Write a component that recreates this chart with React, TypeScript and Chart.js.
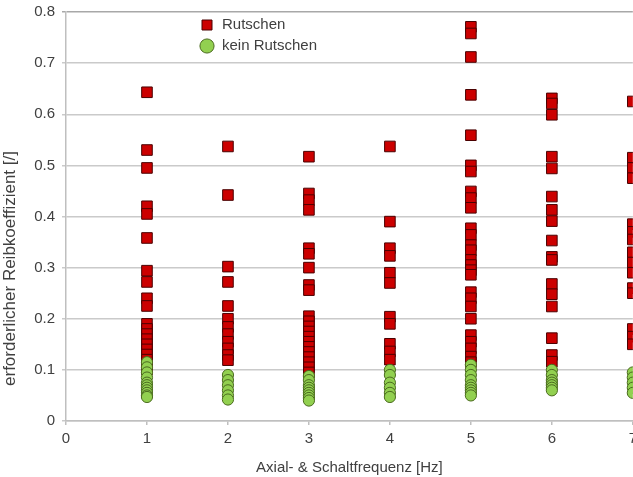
import React, { useEffect, useRef } from 'react';
import { Chart, registerables } from 'chart.js';

Chart.register(...registerables);

// Frequencies (x categories)
const frequencies = [1, 2, 3, 4, 5, 6, 7];

// "Rutschen" (slipping) values per frequency
const rutschenF1 = [0.643, 0.53, 0.495, 0.42, 0.405, 0.358, 0.294, 0.272, 0.24, 0.225, 0.19, 0.18, 0.17, 0.16, 0.15, 0.14, 0.13, 0.12, 0.11, 0.1];
const rutschenF2 = [0.537, 0.442, 0.302, 0.272, 0.225, 0.2, 0.184, 0.17, 0.155, 0.142, 0.129, 0.119];
const rutschenF3 = [0.517, 0.445, 0.432, 0.413, 0.338, 0.327, 0.3, 0.266, 0.256, 0.205, 0.195, 0.185, 0.175, 0.165, 0.155, 0.145, 0.135, 0.125, 0.115, 0.105, 0.095];
const rutschenF4 = [0.537, 0.39, 0.338, 0.323, 0.29, 0.27, 0.204, 0.19, 0.151, 0.136, 0.12];
const rutschenF5 = [0.771, 0.758, 0.712, 0.638, 0.559, 0.5, 0.488, 0.449, 0.436, 0.417, 0.377, 0.364, 0.344, 0.334, 0.315, 0.305, 0.295, 0.286, 0.252, 0.24, 0.224, 0.2, 0.168, 0.155, 0.142, 0.126, 0.115];
const rutschenF6 = [0.631, 0.621, 0.599, 0.517, 0.494, 0.439, 0.413, 0.391, 0.353, 0.321, 0.315, 0.268, 0.248, 0.224, 0.162, 0.129, 0.116];
const rutschenF7 = [0.625, 0.515, 0.495, 0.475, 0.385, 0.37, 0.355, 0.33, 0.31, 0.29, 0.26, 0.25, 0.18, 0.165, 0.15];

// "kein Rutschen" (no slipping) values per frequency
const keinF1 = [0.115, 0.105, 0.095, 0.085, 0.075, 0.07, 0.065, 0.06, 0.055, 0.05, 0.047];
const keinF2 = [0.09, 0.08, 0.07, 0.06, 0.05, 0.042];
const keinF3 = [0.088, 0.08, 0.07, 0.065, 0.06, 0.055, 0.05, 0.045, 0.04];
const keinF4 = [0.1, 0.09, 0.075, 0.065, 0.055, 0.047];
const keinF5 = [0.11, 0.1, 0.09, 0.08, 0.07, 0.065, 0.06, 0.055, 0.05];
const keinF6 = [0.1, 0.09, 0.08, 0.075, 0.07, 0.065, 0.06];
const keinF7 = [0.095, 0.085, 0.075, 0.065, 0.055];

const rutschenByFreq = [rutschenF1, rutschenF2, rutschenF3, rutschenF4, rutschenF5, rutschenF6, rutschenF7];
const keinByFreq = [keinF1, keinF2, keinF3, keinF4, keinF5, keinF6, keinF7];

const seriesLabels = ['Rutschen', 'kein Rutschen'];
const xTitle = 'Axial- & Schaltfrequenz [Hz]';
const yTitle = 'erforderlicher Reibkoeffizient [/]';

const toPoints = (groups: number[][]) =>
  groups.flatMap((vals, i) => vals.map((v) => ({ x: frequencies[i], y: v })));

const TEXT = '#404040';
const FONT = "'Liberation Sans', Arial, sans-serif";

const layoutTweaks = {
  id: 'layoutTweaks',
  afterLayout(chart: any) {
    const lg = chart.legend;
    if (lg) {
      lg.left = 193.5;
      lg.top = 11.5;
      lg.right = chart.chartArea.right;
      lg.bottom = chart.chartArea.bottom;
    }
    const ys = chart.scales.y;
    if (ys && !ys.__shifted) {
      ys.__shifted = true;
      const orig = ys.drawTitle;
      ys.drawTitle = function (...args: any[]) {
        const t = this.top;
        const b = this.bottom;
        this.top = t + 52;
        this.bottom = b + 52;
        orig.apply(this, args);
        this.top = t;
        this.bottom = b;
      };
    }
  },
};

export default function App() {
  const ref = useRef<HTMLCanvasElement>(null);

  useEffect(() => {
    if (!ref.current) return;
    Chart.defaults.font.family = FONT;
    const chart = new Chart(ref.current, {
      type: 'scatter',
      data: {
        datasets: [
          {
            label: seriesLabels[0],
            data: toPoints(rutschenByFreq),
            pointStyle: 'rect',
            pointRadius: 7.5,
            backgroundColor: '#cc0000',
            borderColor: '#4a0000',
            borderWidth: 1,
            order: 1,
          },
          {
            label: seriesLabels[1],
            data: toPoints(keinByFreq),
            pointStyle: 'circle',
            pointRadius: 5.6,
            backgroundColor: '#92d050',
            borderColor: '#4b6b1f',
            borderWidth: 1,
            order: 0,
          },
        ],
      },
      options: {
        animation: false,
        responsive: false,
        devicePixelRatio: 1,
        layout: { padding: { top: 12, right: 0, bottom: 0, left: 0 } },
        plugins: {
          tooltip: { enabled: false },
          legend: {
            position: 'chartArea',
            align: 'start',
            labels: {
              usePointStyle: true,
              boxWidth: 15,
              boxHeight: 10,
              padding: 6,
              color: TEXT,
              font: { size: 15, family: FONT },
              sort: (a: any, b: any) => a.datasetIndex - b.datasetIndex,
            },
          },
        },
        scales: {
          x: {
            type: 'linear',
            min: 0,
            max: 7,
            ticks: { stepSize: 1, color: TEXT, font: { size: 15, family: FONT }, padding: 5 },
            grid: { drawOnChartArea: false, drawTicks: true, tickLength: 4, color: '#bfbfbf', lineWidth: 1.5 },
            border: { color: '#bfbfbf', width: 1.5 },
            title: { display: true, text: xTitle, color: TEXT, font: { size: 15, family: FONT }, padding: { top: 0, bottom: 0 } },
            afterFit: (s: any) => {
              s.height = 56;
            },
          },
          y: {
            min: 0,
            max: 0.8,
            ticks: {
              stepSize: 0.1,
              color: TEXT,
              font: { size: 15, family: FONT },
              padding: 7,
              callback: (v: any) => (Number(v) === 0 ? '0' : Number(v).toFixed(1)),
            },
            grid: {
              color: (c: any) => (c.tick && Math.abs(c.tick.value - 0.8) < 1e-6 ? '#a8a8a8' : '#cacaca'),
              lineWidth: 1.5,
              tickLength: 4,
            },
            border: { color: '#bfbfbf', width: 1.5 },
            title: { display: true, text: yTitle, color: TEXT, font: { size: 17, family: FONT }, padding: 0 },
            afterFit: (s: any) => {
              s.width = 66;
              s.paddingTop = 0;
              s.paddingBottom = 0;
            },
          },
        },
      },
      plugins: [layoutTweaks],
    } as any);
    return () => chart.destroy();
  }, []);

  return (
    <div style={{ position: 'fixed', left: 0, top: 0, width: 633, height: 477, overflow: 'hidden', background: '#fff' }}>
      <canvas ref={ref} width={642} height={477} style={{ display: 'block', width: 642, height: 477 }} />
    </div>
  );
}
